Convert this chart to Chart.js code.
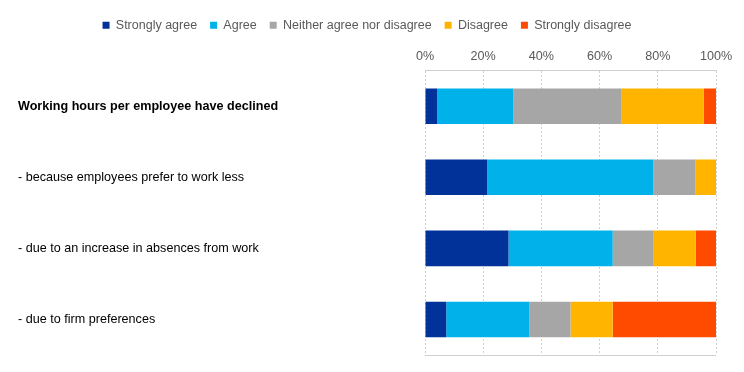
<!DOCTYPE html>
<html>
<head>
<meta charset="utf-8">
<script src="https://cdn.jsdelivr.net/npm/chart.js@4"></script>
<style>
html,body{margin:0;padding:0;background:#fff;}
#wrap{width:744px;height:372px;}
</style>
</head>
<body>
<div id="wrap"><canvas id="c" width="744" height="372"></canvas></div>
<script>
const categories = [
  "Working hours per employee have declined",
  "- because employees prefer to work less",
  "- due to an increase in absences from work",
  "- due to firm preferences"
];
const stronglyAgree    = [4.2, 21.4, 28.7, 7.3];
const agree            = [26.2, 57.1, 35.8, 28.6];
const neither          = [37.2, 14.5, 14.1, 14.1];
const disagree         = [28.2, 7.0, 14.4, 14.5];
const stronglyDisagree = [4.2, 0.0, 7.0, 35.5];
const tickValues = [0, 20, 40, 60, 80, 100];

const seriesNames = ["Strongly agree", "Agree", "Neither agree nor disagree", "Disagree", "Strongly disagree"];
const seriesColors = ["#003299", "#00B1EA", "#A6A6A6", "#FFB400", "#FF4B00"];
const seriesData = [stronglyAgree, agree, neither, disagree, stronglyDisagree];

const FONT = 'Liberation Sans, Arial, sans-serif';

const bottomLine = {
  id: 'bottomLine',
  afterDraw(chart) {
    const a = chart.chartArea, c = chart.ctx;
    c.save();
    c.strokeStyle = '#d0d0d0';
    c.lineWidth = 1;
    c.beginPath();
    c.moveTo(a.left, Math.round(a.bottom) + 0.5);
    c.lineTo(a.right, Math.round(a.bottom) + 0.5);
    c.stroke();
    c.restore();
  }
};

new Chart(document.getElementById('c'), {
  type: 'bar',
  data: {
    labels: categories,
    datasets: seriesNames.map((n, i) => ({
      label: n,
      data: seriesData[i],
      backgroundColor: seriesColors[i],
      borderWidth: 0,
      barPercentage: 0.5,
      categoryPercentage: 1.0
    }))
  },
  plugins: [bottomLine],
  options: {
    indexAxis: 'y',
    responsive: false,
    animation: false,
    layout: { padding: { left: 18, right: 28, top: 6, bottom: 17 } },
    plugins: {
      legend: {
        position: 'top',
        labels: {
          boxWidth: 7, boxHeight: 7,
          color: '#595959',
          font: { family: FONT, size: 12.5 },
          padding: 13
        }
      },
      tooltip: { enabled: false }
    },
    scales: {
      x: {
        position: 'top',
        stacked: true,
        min: 0, max: 100,
        afterBuildTicks(scale) { scale.ticks = tickValues.map(v => ({ value: v })); },
        ticks: {
          callback: v => v + '%',
          color: '#595959',
          font: { family: FONT, size: 12.6 },
          padding: 7,
          maxRotation: 0
        },
        grid: { color: '#cfcfcf', drawTicks: false },
        border: { display: true, color: '#cfcfcf', dash: [2, 2] }
      },
      y: {
        stacked: true,
        afterFit(scale) { scale.width = 425 - 18; },
        ticks: {
          crossAlign: 'far',
          color: '#000',
          font: ctx => ({ family: FONT, size: 12.6, weight: ctx.index === 0 ? 'bold' : 'normal' })
        },
        grid: { display: false, drawTicks: false },
        border: { display: false }
      }
    }
  }
});
</script>
</body>
</html>
